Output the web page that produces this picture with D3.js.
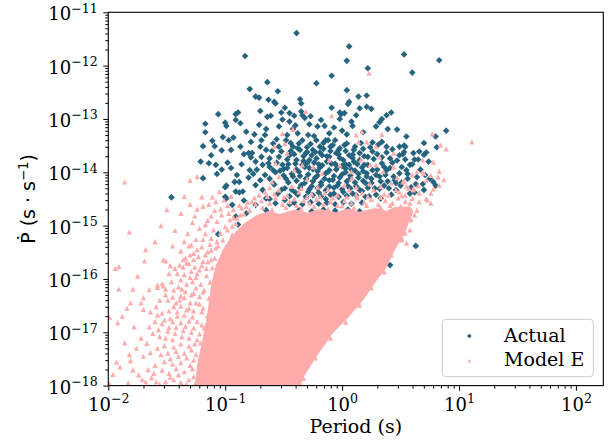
<!DOCTYPE html>
<html>
<head>
<meta charset="utf-8">
<script src="https://cdn.jsdelivr.net/npm/d3@7"></script>
<style>
  body { margin: 0; background: #fff; }
  svg { display: block; }
</style>
</head>
<body>
<svg id="chart" width="614" height="446"></svg>
<script>
// values are [log10 P (s), log10 Pdot (s/s)]

const actual = [
  [-0.39,-11.39],[-0.83,-11.82],[0.06,-11.64],[0.04,-11.91],[0.53,-11.79],[0.83,-11.90],[0.60,-12.13],[0.22,-12.05],
  [-0.09,-12.19],[-0.22,-12.33],[-0.64,-12.31],[-0.55,-12.48],[-0.79,-12.44],
  [-0.74,-12.58],[-0.71,-12.60],[-0.63,-12.64],[-0.58,-12.68],[0.04,-12.46],[0.14,-12.58],[0.21,-12.56],[0.06,-12.68],
  [0.05,-12.72],[-0.36,-12.63],[-0.35,-12.71],[0.15,-12.80],[0.21,-12.77],[0.25,-12.81],[-0.09,-12.79],[-0.02,-12.88],
  [-0.01,-12.91],[0.34,-13.00],[0.38,-12.93],[0.42,-12.88],[0.32,-13.06],[0.39,-13.19],
  [-1.06,-12.91],[-1.17,-13.09],[-1.00,-13.07],[-0.99,-13.13],[-0.91,-12.91],[-0.89,-12.88],[-0.87,-13.08],[-0.91,-13.02],
  [-1.19,-13.51],[-1.11,-13.41],[-1.09,-13.51],[-1.02,-13.34],[-1.21,-13.80],[-1.14,-13.83],[-1.08,-13.86],[-1.19,-14.11],
  [-1.07,-14.03],[-0.98,-13.82],[-0.95,-13.92],[-0.99,-14.25],[-0.92,-14.18],[-0.88,-14.18],[-0.85,-14.36],[-0.91,-14.36],
  [-1.00,-14.46],[-0.87,-13.52],[-0.82,-13.24],[-0.78,-13.43],[-0.75,-13.29],[-0.80,-13.64],[-0.77,-13.64],[-0.71,-13.11],
  [-0.64,-12.96],[-0.61,-12.94],[-0.65,-13.19],[-0.54,-13.14],[-0.51,-13.01],[-0.45,-13.05],[-0.41,-12.94],[-0.35,-12.86],
  [-0.34,-12.93],[-0.32,-12.98],[-0.42,-13.19],[-0.38,-13.27],[-0.29,-13.30],[-0.24,-13.32],[-0.21,-13.14],[-0.15,-13.13],
  [-0.11,-13.27],[-0.07,-13.16],[-0.02,-13.00],[0.02,-12.89],[0.08,-13.05],[0.09,-13.13],[0.04,-13.29],[0.26,-13.44],
  [0.34,-13.43],[0.38,-13.52],[0.49,-13.52],[0.54,-13.52],[0.61,-13.64],[0.65,-13.76],[0.49,-13.68],[0.58,-13.86],
  [0.41,-13.74],[0.34,-13.83],[0.26,-13.61],[0.22,-13.71],[0.15,-13.64],[0.11,-13.52],[0.04,-13.46],[-0.02,-13.55],
  [-0.08,-13.49],[-0.14,-13.40],[-0.19,-13.52],[-0.25,-13.58],[-0.31,-13.64],[-0.37,-13.46],[-0.42,-13.52],[-0.48,-13.40],
  [-0.54,-13.52],[-0.59,-13.46],[-0.65,-13.58],[-0.69,-13.71],[-0.74,-13.80],[-0.79,-13.96],[-0.68,-13.86],[-0.59,-13.96],
  [-0.54,-13.71],[-0.45,-13.68],[-0.39,-13.77],[-0.34,-13.86],[-0.28,-13.77],[-0.22,-13.74],[-0.17,-13.68],[-0.11,-13.71],
  [-0.05,-13.64],[0.01,-13.77],[0.06,-13.86],[0.15,-13.77],[0.21,-14.02],[0.26,-13.96],[0.32,-14.08],[0.38,-13.96],
  [0.44,-14.08],[0.49,-14.02],[0.55,-13.96],[0.64,-14.09],[0.69,-14.22],[0.75,-14.12],[0.59,-14.28],[0.66,-13.61],
  [0.70,-13.67],[0.72,-13.63],[0.62,-13.76],[0.89,-13.22],[0.80,-13.33],[0.81,-13.53],[0.53,-13.50],[0.52,-13.66],
  [0.54,-13.76],[0.41,-15.74],[0.63,-15.38],[-1.06,-15.16],[-1.46,-14.47],
  [-1.00,-14.28],[-0.99,-14.49],[-0.94,-14.61],[-0.88,-14.38],[-0.84,-14.53],[-0.91,-14.83],[-0.89,-14.98],[-0.77,-14.93],
  [-0.82,-14.77],[-0.74,-14.61],[-0.65,-14.49],[-0.68,-14.33],[-0.74,-14.24],[-0.59,-14.21],[-0.52,-14.33],[-0.57,-14.58],
  [-0.65,-14.71],[-0.71,-14.89],[-0.49,-14.52],
  [-1.17,-13.25],[-1.12,-13.68],[-1.03,-13.59],[-0.97,-13.40],[-0.69,-13.40],[-0.62,-13.74],[-0.51,-13.86],[-0.57,-12.71],
  [-0.49,-12.79],[-0.45,-12.89],
  [-0.47,-13.92],[-0.39,-13.95],[-0.32,-13.90],[-0.25,-13.94],[-0.19,-13.91],[-0.11,-13.96],[-0.04,-13.90],[0.03,-13.93],
  [0.11,-13.97],[0.17,-13.91],
  [-0.50,-14.06],[-0.43,-14.03],[-0.36,-14.07],[-0.29,-14.04],[-0.21,-14.06],[-0.14,-14.02],[-0.07,-14.07],[0.00,-14.04],
  [0.07,-14.06],[0.14,-14.03],[0.21,-14.08],[0.29,-14.05],
  [-0.46,-14.19],[-0.39,-14.16],[-0.32,-14.20],[-0.25,-14.17],[-0.18,-14.19],[-0.11,-14.15],[-0.03,-14.20],[0.04,-14.17],
  [0.11,-14.19],[0.18,-14.16],[0.25,-14.20],[0.39,-14.17],[0.51,-14.19],
  [-0.49,-14.30],[-0.43,-14.33],[-0.36,-14.29],[-0.28,-14.32],[-0.21,-14.30],[-0.14,-14.34],[-0.07,-14.29],[0.00,-14.32],
  [0.07,-14.30],[0.15,-14.33],[0.22,-14.29],[0.32,-14.31],[0.46,-14.33],
  [-0.45,-14.45],[-0.38,-14.42],[-0.31,-14.46],[-0.25,-14.43],[-0.18,-14.45],[-0.10,-14.42],[-0.03,-14.46],[0.04,-14.44],
  [0.12,-14.43],[0.20,-14.46],[0.29,-14.42],
  [-0.41,-14.57],[-0.34,-14.60],[-0.27,-14.56],[-0.20,-14.59],[-0.13,-14.57],[-0.06,-14.60],[0.01,-14.56],[0.08,-14.59],
  [0.17,-14.57],
  [-0.37,-14.71],[-0.26,-14.73],[-0.16,-14.70],[-0.06,-14.72],[0.05,-14.70],[0.15,-14.73],
  [-0.44,-13.60],[-0.36,-13.58],[-0.30,-13.53],[-0.23,-13.62],[-0.16,-13.56],[-0.10,-13.60],[-0.03,-13.66],[0.03,-13.60],
  [0.09,-13.67],[0.18,-13.56],[-0.40,-13.84],[-0.30,-13.83],[-0.20,-13.85],[-0.13,-13.80],[-0.06,-13.84],[0.03,-13.85],
  [0.10,-13.80],[0.19,-13.86],[-0.33,-13.70],[-0.26,-13.68],[-0.02,-13.73],[0.09,-13.73],[-0.47,-13.76],[-0.56,-13.82],
  [-0.62,-13.90],[-0.50,-13.94],[-0.57,-14.00],[-0.66,-14.05],[-0.70,-14.15],[-0.62,-14.12],[-0.80,-14.10],[-0.76,-14.03],
  [0.30,-13.66],[0.36,-13.90],[0.43,-13.82],[0.46,-14.20],[0.56,-14.12],[0.62,-14.38],[0.70,-14.33],[0.80,-14.25],
  [0.36,-14.25],[0.42,-14.42],[0.33,-14.49],
  [-0.78,-13.72],[-0.73,-13.95],[-0.70,-13.52],[-0.66,-13.30],[-0.63,-13.83],[-0.60,-13.60],[-0.58,-14.23],[-0.56,-13.38],
  [-0.53,-13.97],[-0.52,-13.61],[-0.48,-14.12],[-0.47,-13.30],[-0.46,-13.85],[-0.44,-13.45],[-0.42,-14.08],[-0.41,-13.66],
  [-0.40,-14.38],[-0.38,-13.55],[-0.37,-13.99],[-0.35,-14.24],[-0.34,-13.40],[-0.33,-13.79],[-0.31,-14.12],[-0.30,-13.62],
  [-0.29,-14.37],[-0.28,-13.92],[-0.27,-13.47],[-0.26,-14.26],[-0.24,-13.82],[-0.23,-14.10],[-0.22,-13.40],[-0.21,-13.98],
  [-0.20,-14.38],[-0.19,-13.63],[-0.18,-14.24],[-0.17,-13.87],[-0.16,-13.45],[-0.15,-14.12],[-0.14,-14.50],[-0.13,-13.70],
  [-0.12,-13.99],[-0.11,-14.27],[-0.10,-13.52],[-0.09,-13.84],[-0.08,-14.14],[-0.07,-14.40],[-0.06,-13.40],[-0.05,-13.95],
  [-0.04,-14.25],[-0.03,-13.58],[-0.02,-14.10],[0.00,-13.88],[0.01,-14.37],[0.02,-13.49],[0.03,-14.00],[0.05,-14.26],
  [0.06,-13.68],[0.07,-14.12],[0.08,-13.95],[0.09,-14.40],[0.10,-13.58],[0.12,-14.26],[0.13,-13.85],[0.14,-14.10],
  [0.16,-13.45],[0.17,-14.35],[0.18,-13.98],[0.19,-13.70],[0.20,-14.20],[0.22,-13.86],[0.23,-14.45],[0.24,-13.53],
  [0.25,-14.12],[0.27,-13.75],[0.28,-14.30],[0.30,-13.95],[0.31,-13.48],[0.33,-14.17],[0.34,-13.72],[0.37,-14.05],
  [0.38,-13.63],[0.40,-14.30],[0.41,-13.92],[0.43,-13.57],[0.45,-14.15],[0.47,-13.78],[0.50,-14.25],[0.51,-13.90],
  [0.53,-13.62],[0.56,-14.03],[0.58,-14.40],[0.60,-13.85],[0.63,-14.22],[0.67,-13.95],[0.71,-14.05],[0.74,-13.80],
  [0.78,-14.18],[-0.55,-14.40],[-0.62,-14.50],[-0.45,-14.60],[-0.86,-13.85],[-0.90,-14.05],[-0.84,-13.66],[-0.95,-13.58],
  [-1.03,-13.95],[-0.93,-13.35],[-0.70,-12.85],[-0.52,-12.88],[-0.27,-12.95],[-0.18,-13.02],[0.12,-12.93],[0.29,-13.14],
  [0.47,-13.20],[0.55,-13.33],[0.70,-13.45],[-0.40,-13.12],[-0.28,-13.10],[-0.12,-13.40],[0.18,-13.25],[0.00,-13.22]
]

const modelE = [
  [0.23,-12.14],[-0.31,-12.86],[-0.09,-12.94],[-0.42,-13.19],[-0.51,-13.27],[-0.49,-13.46],[-0.58,-13.52],[0.12,-13.30],
  [0.17,-13.24],[0.34,-13.29],[0.14,-13.43],[0.21,-13.43],[0.29,-13.52],[0.44,-13.64],[0.32,-13.71],[0.16,-13.77],
  [0.24,-13.86],[0.29,-13.86],[0.35,-13.99],[0.44,-13.90],[0.69,-13.77],[0.64,-13.99],[0.69,-13.99],[0.52,-14.18],
  [0.72,-14.15],[0.61,-14.30],[-0.11,-13.77],[-0.02,-13.86],[0.08,-13.99],[-0.17,-14.02],[-0.25,-13.90],[-0.34,-13.86],
  [-0.41,-13.96],[-0.47,-13.64],[-0.57,-13.83],[-0.54,-14.08],
  [0.77,-13.28],[0.84,-13.49],[0.89,-13.56],[1.11,-13.43],[0.78,-13.81],[0.83,-13.98],[0.53,-14.16],[0.76,-14.06],
  [0.82,-14.09],[0.87,-14.14],[0.83,-14.24],[0.78,-14.31],[0.76,-14.39],[0.61,-14.33],[0.54,-14.43],[0.60,-14.49],
  [0.66,-14.39],[0.72,-14.50],[0.57,-14.30],[0.49,-14.37],
  [0.58,-14.58],[0.66,-14.55],[0.73,-14.52],[0.76,-14.58],[0.55,-14.76],[0.64,-14.71],[0.52,-14.95],[0.59,-14.89],
  [0.54,-15.14],[0.58,-15.08],[0.51,-15.27],[0.55,-15.33],
  [0.62,-14.80],[0.51,-15.23],[0.42,-15.55],[0.36,-15.87],[0.25,-16.17],[0.15,-16.49],[0.03,-16.81],[-0.10,-17.11],
  [-0.23,-17.48],[-0.33,-17.86],
  [-1.18,-17.86],[-1.15,-17.67],[-1.22,-17.56],[-1.17,-17.33],[-1.21,-17.20],[-1.16,-17.05],[-1.20,-16.86],[-1.15,-16.69],
  [-1.19,-16.55],[-1.14,-16.36],[-1.18,-16.21],[-1.13,-16.06],[-1.16,-15.94],[-1.11,-15.79],[-1.15,-15.68],[-1.09,-15.61],
  [-1.12,-15.46],[-1.06,-15.38],[-1.02,-15.27],[-1.04,-15.14],[-0.98,-15.08],[-0.94,-15.01],[-0.90,-14.86],[-0.96,-14.89],
  [-0.84,-14.78],[-0.79,-14.71],[-0.86,-14.67],[-0.74,-14.60],[-0.69,-14.53],[-0.62,-14.58],[-0.64,-14.45],[-0.57,-14.48],
  [-0.51,-14.60],[-0.45,-14.55],[-0.39,-14.62],[-0.33,-14.53],[-0.28,-14.58],[-0.22,-14.51],[-0.16,-14.60],[-0.10,-14.55],
  [-0.04,-14.62],[0.02,-14.53],[0.08,-14.58],[0.13,-14.48],[0.19,-14.56],[0.25,-14.51],[0.31,-14.60],[0.37,-14.53],
  [0.43,-14.58],[0.48,-14.48],[0.54,-14.55],[-0.47,-14.43],[-0.37,-14.37],[-0.26,-14.41],[-0.15,-14.39],[-0.04,-14.43],
  [0.06,-14.33],[0.17,-14.39],[0.27,-14.33],[0.36,-14.41],[0.46,-14.33],[-0.54,-14.33],[-0.62,-14.29],[-0.43,-14.26],
  [-0.21,-14.28],[0.02,-14.24],[0.24,-14.22],[0.42,-14.20],[-0.71,-14.43],[-0.75,-14.48],[-0.81,-14.56],
  [-1.20,-14.46],[-1.11,-14.46],[-1.05,-14.36],[-1.19,-14.64],[-1.12,-14.82],[-1.04,-14.69],[-0.97,-14.77],[-1.17,-14.98],
  [-1.00,-15.02],[-0.91,-14.96],[-1.19,-15.26],[-1.12,-15.24],[-1.07,-15.30],[-0.94,-15.17],[-0.85,-15.14],[-1.31,-15.38],
  [-1.15,-15.49],[-1.08,-15.42],[-1.02,-15.55],[-1.53,-15.64],[-1.36,-15.64],[-1.27,-15.64],[-1.19,-15.67],[-1.12,-15.64],
  [-1.36,-15.78],[-1.22,-15.83],[-1.16,-15.80],[-1.41,-15.90],[-1.58,-16.11],[-1.53,-16.13],[-1.44,-16.21],[-1.45,-16.34],
  [-1.38,-16.32],[-1.29,-16.30],[-1.22,-16.33],
  [-1.38,-14.77],[-1.24,-14.69],[-1.28,-14.94],[-1.43,-15.09],[-1.82,-15.12],[-1.45,-15.38],[-1.29,-15.36],[-1.25,-15.26],
  [-1.27,-15.52],[-1.34,-15.61],[-1.39,-15.74],[-1.31,-15.71],[-1.69,-15.66],[-1.51,-15.66],[-1.91,-15.77],[-1.94,-15.80],
  [-1.48,-15.90],[-1.35,-15.92],[-1.29,-15.86],[-1.25,-15.97],[-1.28,-16.05],[-1.38,-16.02],[-1.54,-16.09],[-1.58,-16.16],
  [-1.51,-16.19],[-1.37,-16.19],[-1.34,-16.24],[-1.25,-16.17],[-1.91,-16.19],[-1.79,-16.19],[-1.81,-16.45],[-1.72,-16.45],
  [-1.70,-16.57],[-1.59,-16.52],[-1.58,-16.68],[-1.49,-16.40],[-1.39,-16.40],[-1.44,-16.52],[-1.38,-16.51],[-1.31,-16.55],
  [-1.25,-16.45],[-1.47,-16.74],[-1.41,-16.70],[-1.35,-16.68],[-1.28,-16.71],[-1.88,-16.70],[-1.92,-16.82],[-1.99,-16.72],
  [-1.54,-16.84],[-1.48,-16.91],[-1.42,-16.91],[-1.34,-16.89],[-1.27,-16.92],[-1.62,-17.02],[-1.72,-17.11],[-1.67,-17.21],
  [-1.56,-17.08],[-1.51,-17.11],[-1.45,-17.14],[-1.37,-17.08],[-1.31,-17.11],[-1.24,-17.14],[-1.55,-17.42],[-1.49,-17.39],
  [-1.42,-17.36],[-1.35,-17.39],[-1.29,-17.33],[-1.25,-17.42],[-1.82,-17.42],[-1.81,-17.53],[-1.93,-17.56],[-1.79,-17.71],
  [-1.96,-17.79],[-1.71,-17.89],[-1.68,-17.93],[-1.61,-17.77],[-1.54,-17.71],[-1.48,-17.77],[-1.42,-17.68],[-1.35,-17.74],
  [-1.28,-17.68],[-1.23,-17.77],[-1.59,-17.93],[-1.51,-17.93],[-1.44,-17.89],[-1.38,-17.94],[-1.31,-17.89],[-1.25,-17.94],
  [-1.99,-17.96],[-1.86,-14.18],[-1.30,-14.15],[-1.24,-14.08],
  [-1.63,-17.85],[-1.56,-17.98],[-1.47,-17.84],[-1.40,-17.80],[-1.33,-17.97],[-1.27,-17.83],[-1.21,-17.96],[-1.17,-17.74],
  [-1.30,-17.62],[-1.38,-17.57],[-1.45,-17.60],[-1.52,-17.55],[-1.60,-17.62],[-1.66,-17.70],[-1.74,-17.80],[-1.20,-17.48],
  [-1.27,-17.52],[-1.33,-17.48],[-1.40,-17.45],[-1.47,-17.50],[-1.58,-17.30],[-1.52,-17.25],[-1.44,-17.28],[-1.38,-17.22],
  [-1.31,-17.26],[-1.26,-17.22],[-1.19,-17.30],[-1.64,-17.38],[-1.70,-17.45],[-1.22,-17.03],[-1.29,-17.00],[-1.36,-16.97],
  [-1.43,-17.02],[-1.49,-16.98],[-1.57,-16.95],[-1.65,-16.90],[-1.18,-16.92],[-1.24,-16.80],[-1.31,-16.79],[-1.38,-16.82],
  [-1.45,-16.80],[-1.52,-16.77],[-1.60,-16.80],[-1.20,-16.62],[-1.27,-16.60],[-1.33,-16.58],[-1.41,-16.62],[-1.48,-16.60],
  [-1.54,-16.64],[-1.64,-16.62],[-1.22,-16.47],[-1.30,-16.45],[-1.35,-16.35],[-1.42,-16.45],[-1.51,-16.30],[-1.56,-16.40],
  [-1.19,-16.25],[-1.27,-16.27],[-1.40,-16.15],[-1.33,-16.10],[-1.46,-16.05],[-1.21,-16.10],[-1.24,-15.90],[-1.30,-15.97],
  [-1.43,-15.80],[-1.20,-15.75],[-1.26,-15.78],[-1.33,-15.70],[-1.47,-15.75],[-1.17,-15.55],[-1.23,-15.58],[-1.30,-15.55],
  [-1.38,-15.48],[-1.20,-15.40],[-1.24,-15.45],[-1.13,-15.35],[-1.35,-15.30],[-1.17,-15.15],[-1.22,-15.05],[-1.10,-15.08],
  [-1.32,-15.15],[-1.07,-14.92],[-1.15,-14.90],[-1.26,-14.82],[-1.03,-14.80],[-1.09,-14.72],[-1.14,-14.60],[-1.30,-14.60],
  [-0.98,-14.62],[-0.93,-14.70],[-1.01,-14.52],[-0.95,-14.45],[-1.08,-14.55],[-1.35,-14.45],[-1.50,-14.70],[-1.55,-15.00],
  [-1.60,-15.30],[-1.68,-15.45],[-1.75,-15.95],[-1.65,-16.20],[-1.70,-16.35],[-1.84,-16.55],[-1.78,-16.90],[-1.86,-17.20],
  [-1.76,-17.30],[-1.90,-17.65],[-1.83,-17.95],
  [-0.88,-14.62],[-0.82,-14.64],[-0.77,-14.55],[-0.93,-14.85],[-0.87,-14.80],
  [-0.66,-14.37],[-0.58,-14.40],[-0.50,-14.47],[-0.41,-14.50],[-0.30,-14.46],[-0.19,-14.45],[-0.08,-14.48],[0.04,-14.46],
  [0.12,-14.42],[0.22,-14.45],[0.33,-14.47],[0.40,-14.43],[0.51,-14.44],[-0.35,-14.30],[-0.12,-14.32],[0.12,-14.28],
  [0.33,-14.27],[0.55,-14.26],[0.65,-14.25],[-0.60,-14.18],[-0.30,-14.13],[0.08,-14.12],[0.47,-14.10],[0.60,-14.05],
  [0.70,-14.02],
  [-0.68,-14.66],[-0.60,-14.70],[-0.48,-14.66],[-0.35,-14.68],[-0.24,-14.64],[-0.12,-14.68],[0.00,-14.63],[0.10,-14.67],
  [0.21,-14.62],[0.33,-14.66],[0.41,-14.62],[0.50,-14.64]
]

// outline of the region where Model E markers overlap into solid colour
const modelECore = [
  [-1.26,-18.1],[-1.24,-17.60],[-1.19,-17.10],[-1.15,-16.60],[-1.12,-16.10],[-1.08,-15.75],[-1.02,-15.45],[-0.95,-15.21],
  [-0.85,-14.98],[-0.73,-14.80],[-0.62,-14.72],[-0.54,-14.78],[-0.40,-14.70],[-0.30,-14.76],[-0.19,-14.69],[-0.05,-14.75],
  [0.05,-14.68],[0.15,-14.74],[0.28,-14.67],[0.38,-14.72],[0.45,-14.65],[0.58,-14.64],[0.61,-14.73],
  [0.54,-15.12],[0.45,-15.46],[0.38,-15.78],[0.28,-16.08],[0.18,-16.40],[0.05,-16.73],[-0.08,-17.02],[-0.21,-17.43],
  [-0.32,-17.80],[-0.37,-18.1]
]

const xTickExp = [-2, -1, 0, 1, 2]
const yTickExp = [-18, -17, -16, -15, -14, -13, -12, -11]
const seriesNames = ['Actual', 'Model E']
const seriesColors = ['#25637f', '#ffabab']

const SERIF = '"DejaVu Serif", serif'
const SANS = '"DejaVu Sans", sans-serif'
const M = { left: 108.3, top: 12.3, right: 603.3, bottom: 385.6 }

const x = d3.scaleLog().domain([1e-2, Math.pow(10, 2.234)]).range([M.left, M.right])
const y = d3.scaleLog().domain([1e-18, 1e-11]).range([M.bottom, M.top])
const px = d => x(Math.pow(10, d[0]))
const py = d => y(Math.pow(10, d[1]))

const svg = d3.select('#chart')

svg.append('defs').append('clipPath').attr('id', 'plot-clip')
  .append('rect').attr('x', M.left).attr('y', M.top)
  .attr('width', M.right - M.left).attr('height', M.bottom - M.top)

// matplotlib style '^' marker: width == height
const triUp = {
  draw(ctx, size) {
    const r = Math.sqrt(size) / 2
    ctx.moveTo(0, -r); ctx.lineTo(r, r); ctx.lineTo(-r, r); ctx.closePath()
  }
}
const diamondPath = d3.symbol().type(d3.symbolSquare).size(22)()
const triPath = d3.symbol().type(triUp).size(27)()

const plot = svg.append('g').attr('clip-path', 'url(#plot-clip)')

plot.append('g').selectAll('path').data(actual).join('path')
  .attr('d', diamondPath)
  .attr('transform', d => `translate(${px(d)},${py(d)}) rotate(45)`)
  .attr('fill', seriesColors[0])

plot.append('path').datum(modelECore)
  .attr('d', d3.line().x(px).y(py).curve(d3.curveLinearClosed))
  .attr('fill', seriesColors[1])

plot.append('g').selectAll('path').data(modelE).join('path')
  .attr('d', triPath)
  .attr('transform', d => `translate(${px(d)},${py(d)})`)
  .attr('fill', seriesColors[1])

// axes
function supLabel(text, e) {
  text.text(null)
  text.append('tspan').text('10')
  text.append('tspan').attr('dy', -7.5).attr('font-size', 12.6).text(e < 0 ? '\u2212' + (-e) : String(e))
}

const xMinor = []
xTickExp.forEach(e => d3.range(2, 10).forEach(m => { const v = m * Math.pow(10, e); if (v <= x.domain()[1]) xMinor.push(v) }))
const yMinor = []
yTickExp.slice(0, -1).forEach(e => d3.range(2, 10).forEach(m => yMinor.push(m * Math.pow(10, e))))

const xAxisG = svg.append('g').attr('transform', `translate(0,${M.bottom})`)
xAxisG.append('g').call(d3.axisBottom(x).tickValues(xMinor).tickSize(3).tickFormat(() => ''))
xAxisG.append('g').attr('class', 'major').call(d3.axisBottom(x).tickValues(xTickExp.map(e => Math.pow(10, e))).tickSize(5).tickFormat(() => ''))

const yAxisG = svg.append('g').attr('transform', `translate(${M.left},0)`)
yAxisG.append('g').call(d3.axisLeft(y).tickValues(yMinor).tickSize(3).tickFormat(() => ''))
yAxisG.append('g').attr('class', 'major').call(d3.axisLeft(y).tickValues(yTickExp.map(e => Math.pow(10, e))).tickSize(5).tickFormat(() => ''))

svg.selectAll('.domain').remove()
svg.selectAll('.tick line').attr('stroke', '#000').attr('stroke-width', 1)

xAxisG.selectAll('.major .tick text')
  .attr('y', 25).attr('dy', null)
  .attr('font-family', SERIF).attr('font-size', 18).attr('fill', '#000')
  .each(function (d) { supLabel(d3.select(this), Math.round(Math.log10(d))) })

yAxisG.selectAll('.major .tick text')
  .attr('x', -10.5).attr('dy', null).attr('y', 7.5)
  .attr('font-family', SERIF).attr('font-size', 18).attr('fill', '#000')
  .each(function (d) { supLabel(d3.select(this), Math.round(Math.log10(d))) })

// frame
svg.append('rect')
  .attr('x', M.left).attr('y', M.top)
  .attr('width', M.right - M.left).attr('height', M.bottom - M.top)
  .attr('fill', 'none').attr('stroke', '#000').attr('stroke-width', 1.1)

// axis titles
svg.append('text')
  .attr('x', (M.left + M.right) / 2).attr('y', 433)
  .attr('text-anchor', 'middle')
  .attr('font-family', SERIF).attr('font-size', 19)
  .text('Period (s)')

const yTitle = svg.append('text')
  .attr('transform', `translate(34.5,${(M.top + M.bottom) / 2}) rotate(-90)`)
  .attr('text-anchor', 'middle')
  .attr('font-family', SANS).attr('font-size', 19)
yTitle.append('tspan').text('\u1E56 (s \u00B7 s')
yTitle.append('tspan').attr('dy', -7).attr('font-size', 13.3).text('\u22121')
yTitle.append('tspan').attr('dy', 7).text(')')

// legend
const legend = svg.append('g')
legend.append('rect')
  .attr('x', 442.3).attr('y', 319.3).attr('width', 151).attr('height', 57.4).attr('rx', 3.5)
  .attr('fill', '#fff').attr('fill-opacity', 0.8)
  .attr('stroke', '#cccccc').attr('stroke-width', 1)

const legendSymbols = [
  d3.symbol().type(d3.symbolSquare).size(11)(),
  d3.symbol().type(triUp).size(13)()
]
seriesNames.forEach((name, i) => {
  const cy = 336 + i * 24.7
  legend.append('path')
    .attr('d', legendSymbols[i])
    .attr('transform', `translate(469.3,${cy})${i === 0 ? ' rotate(45)' : ''}`)
    .attr('fill', seriesColors[i])
  legend.append('text')
    .attr('x', 504).attr('y', cy + 5.7)
    .attr('font-family', SERIF).attr('font-size', 19)
    .text(name)
})
</script>
</body>
</html>
